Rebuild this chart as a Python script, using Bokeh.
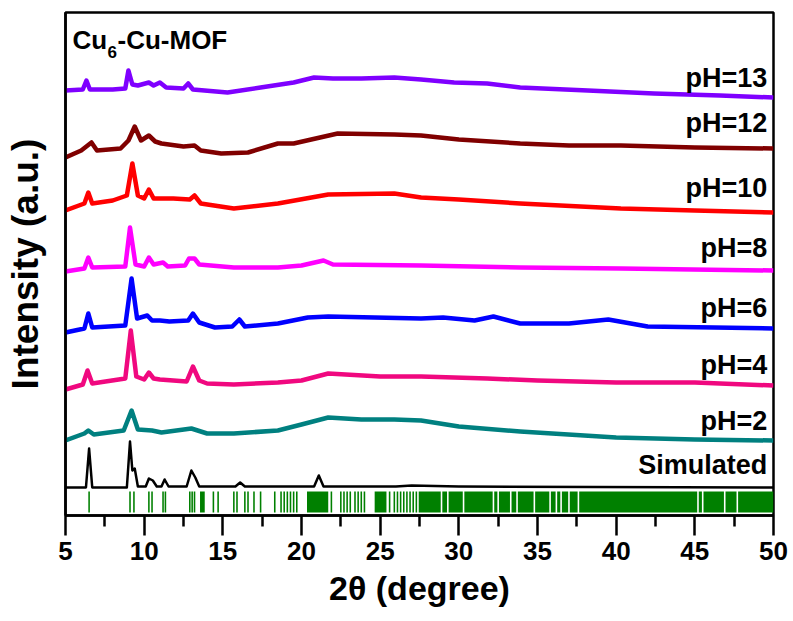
from bokeh.plotting import figure
from bokeh.models import Range1d, FixedTicker, Label
from bokeh.embed import file_html
from bokeh.resources import INLINE

# --- PXRD patterns (2θ in degrees, stacked intensity in a.u.) ---
ph13_tt = [5.0, 6.1, 6.33, 6.55, 8.0, 8.8, 9.0, 9.25, 9.6, 10.3, 10.6, 11.0, 11.4, 12.5, 12.8, 13.1,
           15.3, 17.4, 19.5, 20.8, 22.0, 23.8, 25.9, 27.6, 29.7, 31.8, 33.9, 38.2, 42.4, 46.6, 50.0]
ph13_i = [425, 426, 435, 426, 426, 427, 445, 431, 430, 433, 430, 433, 428, 427, 432, 426,
          423, 428, 433, 438, 437, 437, 438, 436, 433, 432, 428, 425, 422, 420, 418]

ph12_tt = [5.0, 6.0, 6.65, 7.0, 8.5, 9.0, 9.4, 9.8, 10.3, 10.7, 11.1, 12.5, 13.2, 13.6, 14.9, 16.6,
           18.5, 19.5, 22.3, 25.9, 27.6, 30.0, 33.9, 37.0, 40.3, 45.0, 50.0]
ph12_i = [358, 365, 373, 365, 367, 375, 389, 375, 380, 374, 372, 369, 370, 365, 362, 363,
          372, 372, 382, 381, 380, 376, 372, 370, 370, 368, 367]

ph10_tt = [5.0, 6.2, 6.45, 6.7, 8.0, 8.9, 9.25, 9.6, 10.0, 10.3, 10.6, 11.1, 11.85, 12.9, 13.2, 13.6,
           15.7, 18.5, 21.7, 25.9, 27.6, 30.0, 33.9, 40.3, 45.0, 50.0]
ph10_i = [305, 312, 323, 312, 315, 320, 352, 320, 317, 326, 317, 317, 317, 316, 320, 312,
          307, 312, 321, 322, 318, 316, 312, 307, 305, 303]

ph8_tt = [5.0, 6.2, 6.45, 6.7, 8.8, 9.1, 9.45, 10.0, 10.3, 10.6, 11.2, 11.5, 12.6, 12.85, 13.2, 13.5,
          15.7, 18.5, 20.0, 21.4, 22.0, 27.6, 33.9, 40.3, 50.0]
ph8_i = [244, 247, 258, 248, 249, 288, 251, 249, 258, 251, 253, 249, 250, 257, 257, 251,
         248, 248, 250, 255, 251, 250, 248, 247, 245]

ph6_tt = [5.0, 6.2, 6.45, 6.7, 8.8, 9.2, 9.55, 10.2, 10.5, 11.0, 11.6, 12.8, 13.1, 13.5, 14.5, 15.6,
          16.05, 16.4, 18.5, 20.4, 21.7, 27.6, 29.0, 31.0, 32.2, 33.9, 37.0, 39.5, 42.0, 50.0]
ph6_i = [183, 187, 202, 188, 190, 237, 197, 200, 195, 195, 194, 195, 202, 193, 188, 189,
         196, 189, 192, 198, 199, 197, 198, 195, 199, 192, 192, 196, 189, 187]

ph4_tt = [5.0, 6.1, 6.4, 6.7, 8.8, 9.15, 9.5, 10.0, 10.3, 10.6, 11.0, 12.7, 13.1, 13.5, 14.0, 15.7,
          18.5, 20.0, 21.7, 25.0, 27.6, 31.8, 35.0, 40.0, 45.0, 50.0]
ph4_i = [126, 131, 145, 132, 137, 185, 139, 136, 143, 137, 136, 134, 149, 135, 132, 131,
         133, 135, 142, 139, 139, 137, 135, 133, 133, 130]

ph2_tt = [5.0, 6.2, 6.45, 6.8, 8.7, 9.2, 9.6, 10.5, 11.1, 13.0, 14.0, 15.7, 18.5, 20.0, 21.7, 23.8,
          25.9, 27.6, 30.0, 33.9, 40.0, 45.0, 50.0]
ph2_i = [75, 82, 85, 81, 85, 105, 86, 85, 83, 87, 82, 82, 85, 91, 98, 96,
         96, 95, 89, 84, 78, 76, 75]

sim_tt = [5.0, 6.3, 6.5, 6.7, 8.9, 9.1, 9.25, 9.4, 9.6, 10.1, 10.3, 10.55, 10.8, 11.1, 11.3, 11.55,
          12.7, 13.0, 13.25, 13.5, 15.8, 16.1, 16.4, 20.8, 21.1, 21.4, 26.0, 27.0, 30.0, 50.0]
sim_i = [28, 28, 67, 28, 28, 74, 45, 47, 29, 29, 37, 35, 29, 29, 36, 29,
         29, 45, 38, 29, 29, 33, 29, 29, 40, 29, 29, 30, 29, 28]

# calculated reflection positions (single lines and overlapping bands)
refl_lines = [6.5, 9.1, 9.35, 10.3, 10.5, 11.2, 11.35, 12.9, 13.05, 13.2, 14.4, 14.7, 15.7, 15.9,
              16.4, 16.6, 16.98, 17.4, 18.3, 18.7, 18.9, 19.1, 19.3, 19.5, 19.7, 21.9, 22.5, 22.7,
              22.9, 23.1, 23.4, 23.6, 23.8, 24.0, 25.6, 25.9, 26.1, 26.3, 26.5, 26.7, 26.9, 27.1, 27.3]
refl_band_start = [13.55, 20.35, 24.65, 27.45, 28.95, 29.35, 30.35, 32.25, 32.55, 33.35, 33.75,
                   34.85, 35.85, 36.25, 36.55, 37.05, 37.65, 45.25, 45.55, 46.95, 47.75]
refl_band_end = [13.85, 21.7, 25.4, 28.85, 29.25, 30.25, 32.15, 32.45, 33.25, 33.65, 34.75,
                 35.75, 36.15, 36.45, 36.95, 37.55, 45.15, 45.45, 46.85, 47.65, 50.0]

sample_names = ["pH=13", "pH=12", "pH=10", "pH=8", "pH=6", "pH=4", "pH=2", "Simulated"]
label_levels = [438, 393, 328, 268, 208, 151, 95, 51]
sample_colors = ["#7F00FF", "#800000", "#FF0000", "#FF00FF", "#0000FF", "#F0087F", "#008080", "#000000"]

x_major = [5, 10, 15, 20, 25, 30, 35, 40, 45, 50]
x_minor = [7.5, 12.5, 17.5, 22.5, 27.5, 32.5, 37.5, 42.5, 47.5]

FONT = "Liberation Sans"

p = figure(width=793, height=621, output_backend="svg", toolbar_location=None,
           x_range=Range1d(5, 50), y_range=Range1d(0, 503),
           min_border_left=65, min_border_right=20, min_border_top=12, min_border_bottom=106)
p.background_fill_color = "white"
p.border_fill_color = "white"
p.xgrid.visible = False
p.ygrid.visible = False
p.outline_line_color = "black"
p.outline_line_width = 2.5

# x axis
xa = p.xaxis[0]
xa.ticker = FixedTicker(ticks=x_major, minor_ticks=x_minor)
xa.axis_line_width = 2.5
xa.major_tick_line_width = 2.5
xa.minor_tick_line_width = 2.5
xa.major_tick_in = 0
xa.major_tick_out = 20
xa.minor_tick_in = 0
xa.minor_tick_out = 11
xa.major_label_text_font = FONT
xa.major_label_text_font_style = "bold"
xa.major_label_text_font_size = "26px"
xa.major_label_text_color = "black"
xa.major_label_standoff = 6
xa.axis_label = "2θ (degree)"
xa.axis_label_text_font = FONT
xa.axis_label_text_font_style = "bold"
xa.axis_label_text_font_size = "34px"
xa.axis_label_text_color = "black"
xa.axis_label_standoff = 6

# y axis: title only
ya = p.yaxis[0]
ya.ticker = FixedTicker(ticks=[])
ya.major_label_text_font_size = "0px"
ya.major_tick_line_color = None
ya.minor_tick_line_color = None
ya.axis_line_width = 2.5
ya.axis_label = "Intensity (a.u.)"
ya.axis_label_text_font = FONT
ya.axis_label_text_font_style = "bold"
ya.axis_label_text_font_size = "37px"
ya.axis_label_text_color = "black"
ya.axis_label_standoff = 20

# reflection markers
p.quad(left=[t - 0.05 for t in refl_lines], right=[t + 0.05 for t in refl_lines],
       bottom=3, top=24, fill_color="#008000", line_color=None)
p.quad(left=refl_band_start, right=refl_band_end, bottom=3, top=24,
       fill_color="#008000", line_color=None)

patterns = [(ph13_tt, ph13_i), (ph12_tt, ph12_i), (ph10_tt, ph10_i), (ph8_tt, ph8_i),
            (ph6_tt, ph6_i), (ph4_tt, ph4_i), (ph2_tt, ph2_i), (sim_tt, sim_i)]
for (tt, ii), color, name in zip(patterns, sample_colors, sample_names):
    p.line(tt, ii, line_color=color, line_width=2.5 if name == "Simulated" else 4.5,
           line_join="round")

for name, lvl in zip(sample_names, label_levels):
    p.add_layout(Label(x=49.6, y=lvl, text=name, text_align="right", text_baseline="middle",
                       text_font=FONT, text_font_style="bold", text_font_size="27px",
                       text_color="black"))

# sample title with subscript
p.add_layout(Label(x=7, y=476, x_units="screen", y_units="screen", text="Cu",
                   text_align="left", text_baseline="middle", text_font=FONT,
                   text_font_style="bold", text_font_size="26px", text_color="black"))
p.add_layout(Label(x=42, y=464, x_units="screen", y_units="screen", text="6",
                   text_align="left", text_baseline="middle", text_font=FONT,
                   text_font_style="bold", text_font_size="17px", text_color="black"))
p.add_layout(Label(x=52, y=476, x_units="screen", y_units="screen", text="-Cu-MOF",
                   text_align="left", text_baseline="middle", text_font=FONT,
                   text_font_style="bold", text_font_size="26px", text_color="black"))

open("out.html", "w").write(file_html(p, INLINE))
